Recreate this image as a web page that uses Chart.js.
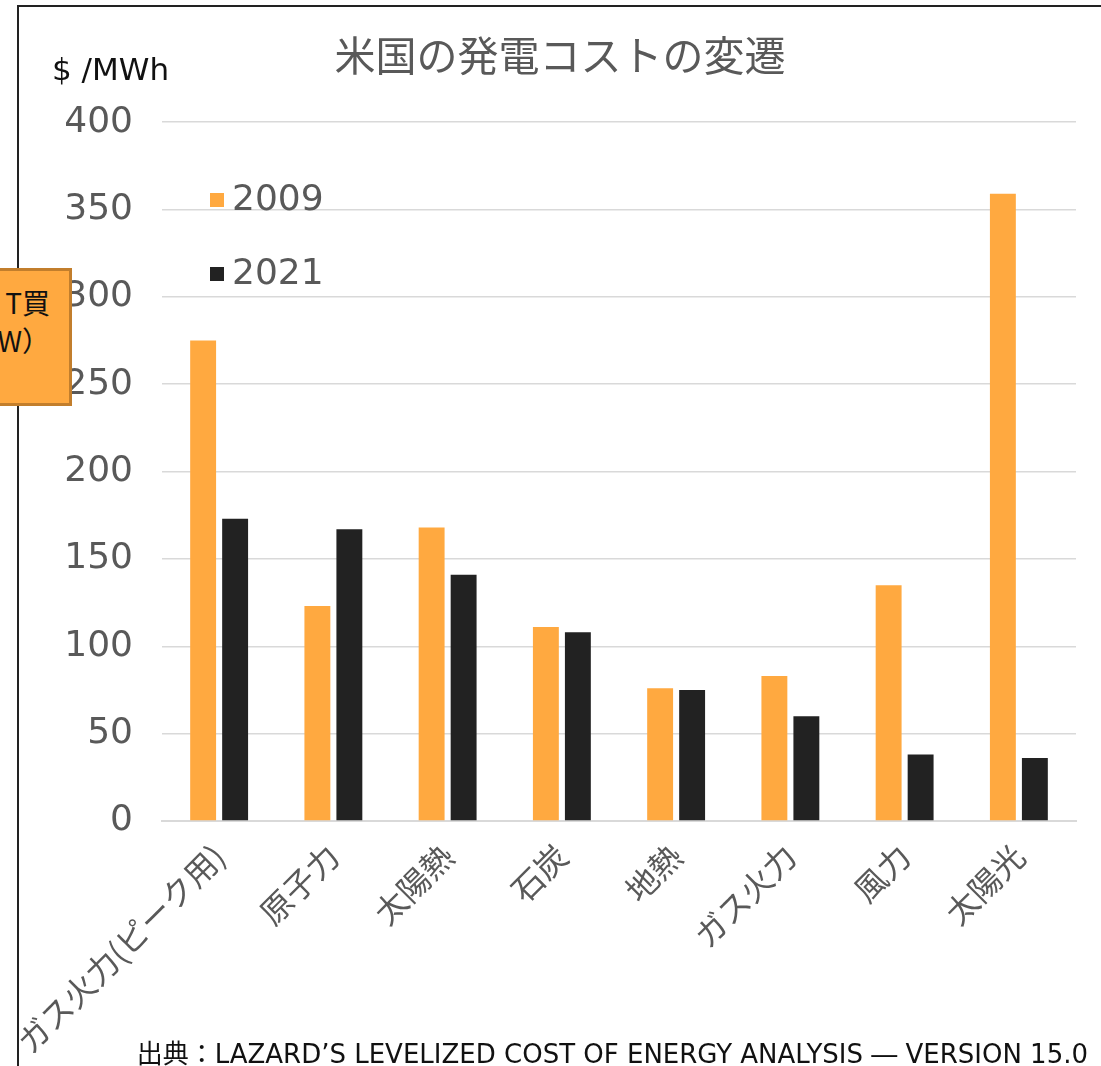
<!DOCTYPE html>
<html>
<head>
<meta charset="utf-8">
<script src="https://cdn.jsdelivr.net/npm/chart.js@4.4.0/dist/chart.umd.min.js"></script>
<style>
  body { margin: 0; background: #fff; font-family: "Noto Sans CJK JP", "Noto Sans", sans-serif; }
  #page { position: relative; width: 1101px; height: 1066px; overflow: hidden; }
  #frame { position: absolute; left: 17px; top: 5px; width: 1084px; height: 1061px;
           border-left: 2px solid #222; border-top: 2px solid #222; box-sizing: border-box; }
  #wrap { position: absolute; left: 17px; top: 5px; width: 1084px; height: 1061px; }
  #unit { position: absolute; left: 52px; top: 51px; font-size: 31px; color: #111;
          font-family: "DejaVu Sans", "Noto Sans CJK JP", sans-serif; }
  #src { position: absolute; right: 13px; top: 1033px; font-size: 26px; color: #111; white-space: nowrap;
         font-family: "DejaVu Sans", "Noto Sans CJK JP", sans-serif; }
  #note { position: absolute; left: -6px; top: 268px; width: 78px; height: 138px; box-sizing: border-box;
          background: #ffa940; border: 3px solid #c27e2c; font-size: 28px; color: #111;
          text-align: right; padding: 12px 19px 0 0; line-height: 38px; z-index: 5; }
</style>
</head>
<body>
<div id="page">
  <div id="wrap"><canvas id="chart"></canvas></div>
  <div id="frame"></div>
  <div id="unit">$ /MWh</div>
  <div id="note">T買<br>W）</div>
  <div id="src">出典：LAZARD’S LEVELIZED COST OF ENERGY ANALYSIS ― VERSION 15.0</div>
</div>
<script>
// 発電方式
var categories = ["ガス火力(ピーク用)", "原子力", "太陽熱", "石炭", "地熱", "ガス火力", "風力", "太陽光"];
// $/MWh
var cost2009 = [275, 123, 168, 111, 76, 83, 135, 359];
var cost2021 = [173, 167, 141, 108, 75, 60, 38, 36];
var yTicks = [0, 50, 100, 150, 200, 250, 300, 350, 400];

var FONT = '"Noto Sans CJK JP", "Noto Sans", sans-serif';
var NUMFONT = '"DejaVu Sans", "Noto Sans", sans-serif';

// 凡例をプロット内に縦並びで描く
var insideLegend = {
  id: 'insideLegend',
  afterDraw: function(chart) {
    var ctx = chart.ctx;
    var x = chart.chartArea.left + 48;
    var ys = [195, 269];
    ctx.save();
    ctx.font = '36px ' + NUMFONT;
    ctx.textBaseline = 'middle';
    chart.data.datasets.forEach(function(ds, i) {
      ctx.fillStyle = ds.backgroundColor;
      ctx.fillRect(x, ys[i] - 7, 14, 14);
      ctx.fillStyle = '#595959';
      ctx.fillText(ds.label, x + 22, ys[i] + 1);
    });
    ctx.restore();
  }
};

new Chart(document.getElementById('chart'), {
  type: 'bar',
  data: {
    labels: categories,
    datasets: [
      { label: '2009', data: cost2009, backgroundColor: '#ffa940' },
      { label: '2021', data: cost2021, backgroundColor: '#222222' }
    ]
  },
  options: {
    responsive: true,
    maintainAspectRatio: false,
    animation: false,
    categoryPercentage: 0.56,
    barPercentage: 0.81,
    layout: { padding: { left: 27, right: 25, top: 0, bottom: 0 } },
    plugins: {
      legend: { display: false },
      tooltip: { enabled: false },
      title: {
        display: true,
        text: '米国の発電コストの変遷',
        color: '#595959',
        font: { family: FONT, size: 41, weight: 'normal' },
        padding: { top: 26, bottom: 42 }
      }
    },
    scales: {
      x: {
        grid: { display: false },
        border: { color: '#d9d9d9', width: 2 },
        ticks: {
          color: '#595959', font: { family: FONT, size: 32 },
          minRotation: 45, maxRotation: 45, padding: 8
        },
        afterFit: function(s) { s.height = 245; s.paddingLeft = 0; s.paddingRight = 0; }
      },
      y: {
        min: 0, max: 400,
        afterBuildTicks: function(s) { s.ticks = yTicks.map(function(v) { return { value: v }; }); },
        grid: { color: '#d9d9d9', lineWidth: 1.5, drawTicks: false },
        border: { display: false },
        ticks: { color: '#595959', font: { family: NUMFONT, size: 36 }, padding: 29 },
        afterFit: function(s) { s.width = 118; }
      }
    }
  },
  plugins: [insideLegend]
});
</script>
</body>
</html>
